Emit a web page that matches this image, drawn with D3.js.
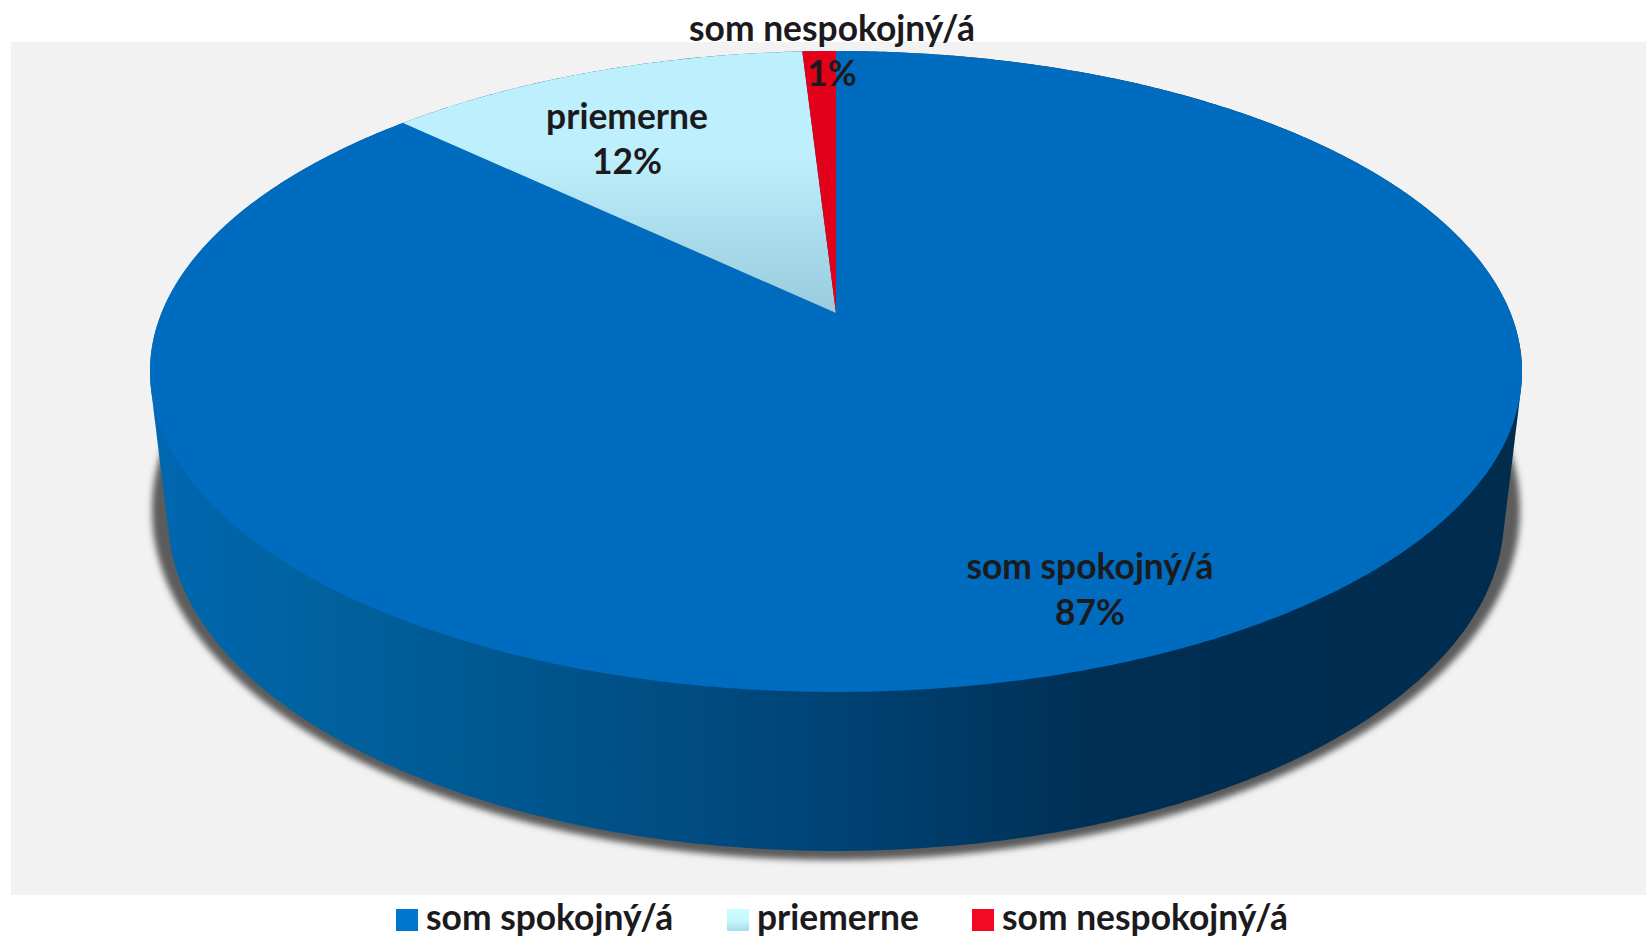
<!DOCTYPE html>
<html><head><meta charset="utf-8">
<script src="https://cdn.jsdelivr.net/npm/d3@7/dist/d3.min.js"></script>
<style>html,body{margin:0;padding:0;background:#fff;overflow:hidden}svg{display:block}
text{font-family:Lato,Carlito,sans-serif;font-weight:700;fill:#1c1a1c}</style></head>
<body><script>
const categories = ["som spokojný/á", "priemerne", "som nespokojný/á"];
const values = [87.14, 11.92, 0.94];
const valueLabels = ["87%", "12%", "1%"];

const W = 1646, H = 937;
const svg = d3.select("body").append("svg").attr("width", W).attr("height", H);
const defs = svg.append("defs");

// perspective model of the pie: top face, and rim ellipses derived from it
const cx = 836, apexY = 313, k = 0.1825, a = 309.8, b = 674.5, topCy = 371.5;
function face(theta, r) {
  const X = r * Math.sin(theta), Y = r * Math.cos(theta), w = 1 + k * Y;
  return [cx + b * X / w, apexY - a * Y / w];
}
// same outline re-fitted about another centre: sx, sy are scale, cy the new centre
const refit = (p, sx, sy, cy) => [cx + (p[0] - cx) * sx, cy + (p[1] - topCy) * sy];
const lowerRim = t => refit(face(t, 1), 668 / 686, 334 / 320.5, 517);
const shadowRim = t => refit(face(t, 1), 684 / 686, 350 / 320.5, 510);

const pieGen = d3.pie().sort(null).value(d => d)(values);
const line = d3.line().curve(d3.curveLinear);
const ring = d3.range(0, 720).map(i => i / 720 * 2 * Math.PI);

// gradients
function grad(id, attrs, stops, user) {
  const g = defs.append("linearGradient").attr("id", id);
  if (user) g.attr("gradientUnits", "userSpaceOnUse");
  Object.entries(attrs).forEach(([k, v]) => g.attr(k, v));
  stops.forEach(s => g.append("stop").attr("offset", s[0]).attr("stop-color", s[1]));
}
grad("wall", {x1: 150, x2: 1522, y1: 0, y2: 0},
  [[0, "#0068b0"], [.12, "#00629f"], [.27, "#00568f"], [.5, "#004375"], [.69, "#002f54"], [1, "#002c4e"]], true);
grad("wedge", {x1: 0, x2: 0, y1: 51, y2: 313},
  [[0, "#bdeffc"], [.4, "#bdeffc"], [1, "#98cbdc"]], true);
grad("lgLight", {x1: 0, x2: 0, y1: 0, y2: 1}, [[0, "#cbfcff"], [.5, "#c8f8fd"], [1, "#a6dcec"]]);
grad("lgBlue", {x1: 0, x2: 0, y1: 0, y2: 1}, [[0, "#0078d2"], [1, "#0074cb"]]);

const blur = defs.append("filter").attr("id", "sh")
  .attr("x", "-5%").attr("y", "-5%").attr("width", "110%").attr("height", "110%");
blur.append("feGaussianBlur").attr("stdDeviation", 3);

// plot background
svg.append("rect").attr("x", 11).attr("y", 42).attr("width", W - 11).attr("height", 853).attr("fill", "#f2f2f2");

// shadow
svg.append("path").attr("d", line(ring.map(shadowRim)) + "Z")
  .attr("fill", "#5c5c5c").attr("filter", "url(#sh)");

// side wall: silhouette of the top and bottom rims
const rim = ring.flatMap(t => [face(t, 1), lowerRim(t)]);
svg.append("path").attr("d", line(d3.polygonHull(rim)) + "Z").attr("fill", "url(#wall)");

// top face, one slice per datum
const fills = ["#006cbf", "url(#wedge)", "#e2001a"];
svg.append("g").selectAll("path").data(pieGen).join("path")
  .attr("fill", (d, i) => fills[i])
  .attr("d", d => {
    const n = Math.max(4, Math.ceil((d.endAngle - d.startAngle) * 120));
    const pts = d3.range(n + 1).map(i => face(d.startAngle + (d.endAngle - d.startAngle) * i / n, 1));
    return line([face(0, 0), ...pts]) + "Z";
  });

// data labels
const fontPx = "35.4px";
const labelPos = [[1090, 579, 625], [627, 129, 174], [832, 41, 86]];
const lab = svg.append("g").attr("text-anchor", "middle").style("font-size", fontPx);
categories.forEach((c, i) => {
  lab.append("text").attr("x", labelPos[i][0]).attr("y", labelPos[i][1]).text(c);
  lab.append("text").attr("x", labelPos[i][0]).attr("y", labelPos[i][2]).text(valueLabels[i]);
});

// legend
const legFill = ["url(#lgBlue)", "url(#lgLight)", "#f20a25"];
const legX = [396, 727, 972];
const leg = svg.append("g").selectAll("g").data(categories).join("g")
  .attr("transform", (d, i) => `translate(${legX[i]},909)`);
leg.append("rect").attr("width", 22).attr("height", 22).attr("fill", (d, i) => legFill[i]);
leg.append("text").attr("x", 30).attr("y", 21).style("font-size", fontPx).text(d => d);
</script></body></html>
